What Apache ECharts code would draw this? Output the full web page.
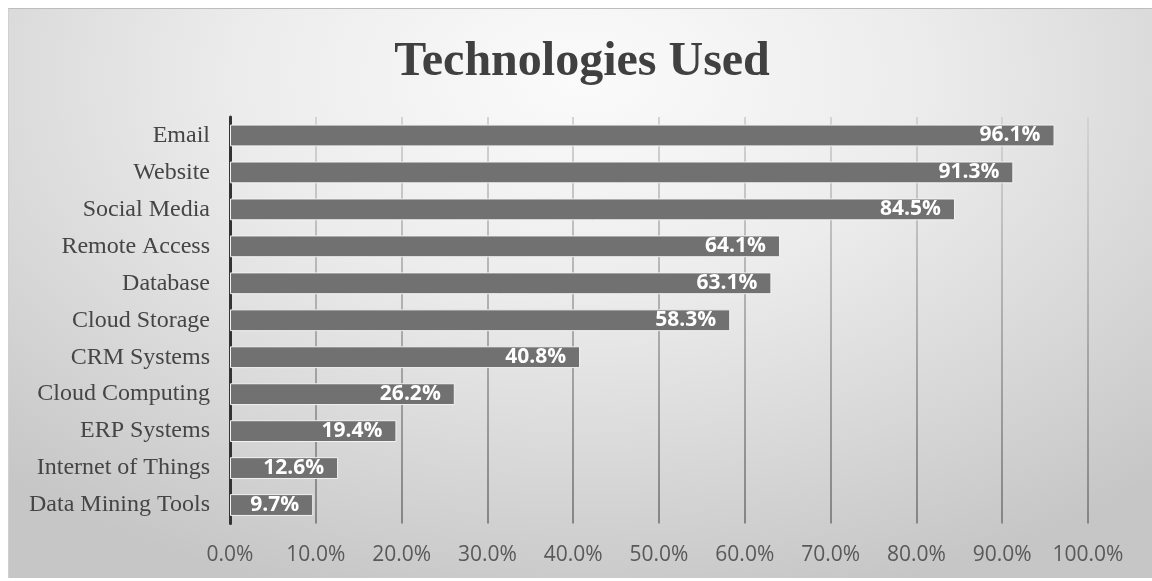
<!DOCTYPE html>
<html>
<head>
<meta charset="utf-8">
<script src="https://cdn.jsdelivr.net/npm/echarts@6/dist/echarts.min.js"></script>
<style>
  html, body { margin: 0; padding: 0; background: #fff; }
  .frame {
    position: absolute; left: 8px; top: 8px; width: 1144px; height: 569px;
    border-top: 1px solid #bdbdbd; border-left: 1px solid #d0d0d0;
    background: radial-gradient(ellipse 75% 95% at 50% 12%, #fbfbfb 0%, #ececec 40%, #d6d6d6 75%, #c6c6c6 100%);
  }
  #chart { position: absolute; left: 0; top: 0; width: 1152px; height: 581px; }
</style>
</head>
<body>
<div class="frame"></div>
<div id="chart"></div>
<script>
  var titleText = "Technologies Used";
  var categories = ["Email", "Website", "Social Media", "Remote Access", "Database",
    "Cloud Storage", "CRM Systems", "Cloud Computing", "ERP Systems",
    "Internet of Things", "Data Mining Tools"];
  var values = [96.1, 91.3, 84.5, 64.1, 63.1, 58.3, 40.8, 26.2, 19.4, 12.6, 9.7];
  var xMin = 0, xMax = 100, xStep = 10;

  var mychart = echarts.init(document.getElementById("chart"));
  var option = {
    backgroundColor: "transparent",
    animation: false,
    title: {
      text: titleText,
      left: 577,
      top: 34,
      textAlign: "center",
      textStyle: {
        fontFamily: "Liberation Serif",
        fontWeight: "bold",
        fontSize: 48,
        color: "#404040"
      }
    },
    grid: {
      left: 230,
      right: 64,
      top: 117,
      bottom: 57.5
    },
    xAxis: {
      type: "value",
      min: xMin,
      max: xMax,
      interval: xStep,
      axisLine: { show: false },
      axisTick: { show: false },
      axisLabel: {
        margin: 21,
        fontFamily: "Open Sans",
        fontSize: 21,
        color: "#595959",
        formatter: function(v) { return v.toFixed(1) + "%"; }
      },
      splitLine: {
        show: true,
        lineStyle: {
          width: 2,
          color: {
            type: "linear", x: 0, y: 117, x2: 0, y2: 524, global: true,
            colorStops: [
              { offset: 0, color: "#d4d4d4" },
              { offset: 1, color: "#858585" }
            ]
          }
        }
      }
    },
    yAxis: {
      type: "category",
      data: categories,
      inverse: true,
      axisTick: { show: false },
      axisLine: {
        show: true,
        lineStyle: { color: "#333333", width: 3 }
      },
      axisLabel: {
        margin: 20,
        fontFamily: "Liberation Serif",
        fontSize: 24,
        color: "#454545"
      }
    },
    series: [
      {
        type: "bar",
        data: values,
        barWidth: "59%",
        z: 3,
        itemStyle: {
          color: "#717171",
          borderColor: "#f2f2f2",
          borderWidth: 1
        },
        label: {
          show: true,
          position: "insideRight",
          distance: 14,
          fontFamily: "Open Sans",
          fontWeight: "bold",
          fontSize: 21,
          color: "#ffffff",
          formatter: function(p) { return p.value.toFixed(1) + "%"; }
        }
      }
    ]
  };
  mychart.setOption(option);
</script>
</body>
</html>
